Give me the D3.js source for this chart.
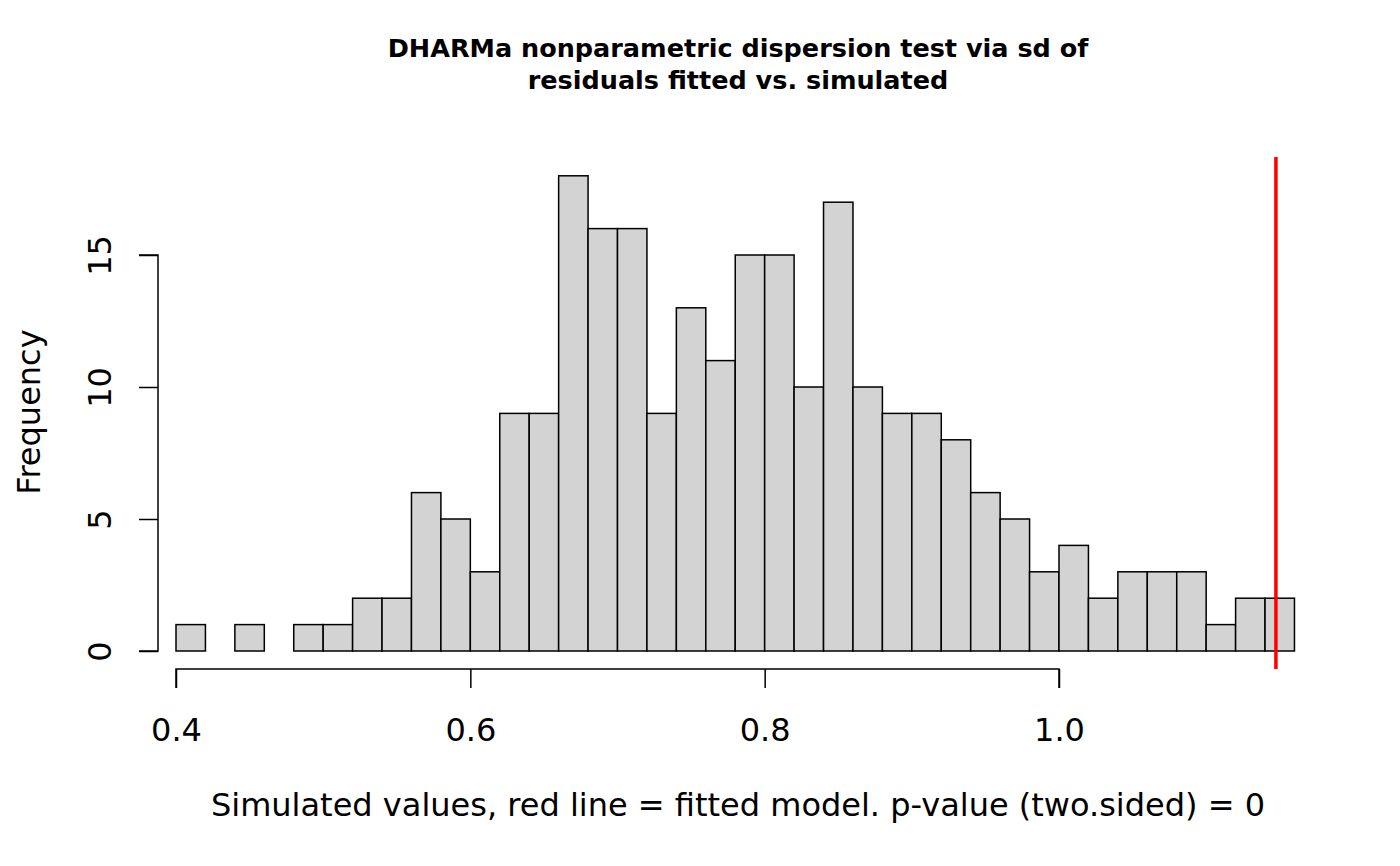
<!DOCTYPE html>
<html>
<head>
<meta charset="utf-8">
<script src="https://cdn.jsdelivr.net/npm/d3@7"></script>
<style>
  html, body { margin: 0; padding: 0; background: #fff; }
  svg { display: block; font-family: "DejaVu Sans", sans-serif; }
</style>
</head>
<body>
<div id="chart"></div>
<script>
// histogram of simulated sd values, bin width 0.02
const binStarts = d3.range(38).map(i => +(0.40 + i * 0.02).toFixed(2));
const counts = [1, 0, 1, 0, 1, 1, 2, 2, 6, 5,
                3, 9, 9, 18, 16, 16, 9, 13, 11, 15,
                15, 10, 17, 10, 9, 9, 8, 6, 5, 3,
                4, 2, 3, 3, 3, 1, 2, 2];
const binWidth = 0.02;
const observed = 1.1474;
const xTicks = [0.4, 0.6, 0.8, 1.0];
const yTicks = [0, 5, 10, 15];

const width = 1400, height = 866;

const svg = d3.select("#chart")
    .append("svg")
    .attr("width", width)
    .attr("height", height);

const x = d3.scaleLinear()
    .domain([0.4, 1.0])
    .range([176, 1059]);

const y = d3.scaleLinear()
    .domain([0, 15])
    .range([651, 255]);

// bars
svg.append("g")
  .selectAll("rect")
  .data(counts.map((c, i) => ({x0: binStarts[i], n: c})).filter(d => d.n > 0))
  .join("rect")
    .attr("x", d => x(d.x0))
    .attr("y", d => y(d.n))
    .attr("width", d => x(d.x0 + binWidth) - x(d.x0))
    .attr("height", d => y(0) - y(d.n))
    .attr("fill", "#d3d3d3")
    .attr("stroke", "#000")
    .attr("stroke-width", 1.5);

// x axis
const xAxis = svg.append("g")
    .attr("transform", "translate(0,669)")
    .call(d3.axisBottom(x).tickValues(xTicks).tickFormat(d3.format(".1f")).tickSize(19));

// y axis
const yAxis = svg.append("g")
    .attr("transform", "translate(158,0)")
    .call(d3.axisLeft(y).tickValues(yTicks).tickSize(19));

[xAxis, yAxis].forEach(a => {
  a.select(".domain").attr("stroke", "#000").attr("stroke-width", 1.5);
  a.selectAll(".tick line").attr("stroke", "#000").attr("stroke-width", 1.5);
  a.selectAll("text")
    .attr("fill", "#000")
    .style("font-family", "DejaVu Sans")
    .style("font-size", "32px");
});
xAxis.select(".domain").attr("d", `M${x(0.4)},19V0H${x(1.0)}V19`);
yAxis.select(".domain").attr("d", `M-19,${y(0)}H0V${y(15)}H-19`);

xAxis.selectAll(".tick text")
    .attr("y", 72)
    .attr("dy", null);

yAxis.selectAll(".tick text")
    .attr("x", 0)
    .attr("y", 0)
    .attr("dy", null)
    .attr("text-anchor", "middle")
    .attr("transform", "translate(-58,0) rotate(-90)")
    .attr("dominant-baseline", "central");

// observed value
svg.append("line")
    .attr("x1", x(observed))
    .attr("x2", x(observed))
    .attr("y1", 157)
    .attr("y2", 669)
    .attr("stroke", "#ff0000")
    .attr("stroke-width", 3.5);

// titles
svg.append("text")
    .attr("x", 738)
    .attr("y", 57)
    .attr("text-anchor", "middle")
    .attr("font-weight", "bold")
    .attr("font-size", "25.5px")
    .text("DHARMa nonparametric dispersion test via sd of");

svg.append("text")
    .attr("x", 738)
    .attr("y", 89)
    .attr("text-anchor", "middle")
    .attr("font-weight", "bold")
    .attr("font-size", "25.5px")
    .text("residuals fitted vs. simulated");

svg.append("text")
    .attr("x", 738)
    .attr("y", 816)
    .attr("text-anchor", "middle")
    .attr("font-size", "32px")
    .text("Simulated values, red line = fitted model. p-value (two.sided) = 0");

svg.append("text")
    .attr("transform", "translate(40,412) rotate(-90)")
    .attr("text-anchor", "middle")
    .attr("font-size", "32px")
    .text("Frequency");
</script>
</body>
</html>
